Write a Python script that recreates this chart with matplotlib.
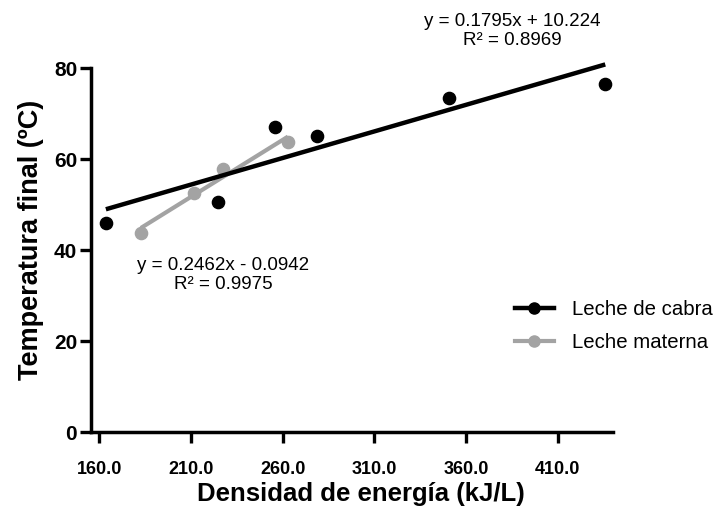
import numpy as np
import matplotlib
matplotlib.use("Agg")
import matplotlib.pyplot as plt
import matplotlib.transforms as mtransforms

plt.rcParams['font.family'] = ['Liberation Sans', 'DejaVu Sans']

# Leche de cabra
cabra_x = [163.6, 224.5, 255.7, 278.7, 351.0, 436.0]
cabra_y = [46.0, 50.6, 67.1, 65.1, 73.5, 76.6]
# Leche materna
materna_x = [182.7, 211.7, 227.5, 262.9]
materna_y = [43.8, 52.6, 57.8, 63.8]

x_ticks = [160, 210, 260, 310, 360, 410]
y_ticks = [0, 20, 40, 60, 80]

eq_cabra = "y = 0.1795x + 10.224\nR² = 0.8969"
eq_materna = "y = 0.2462x - 0.0942\nR² = 0.9975"

BLACK = "#000000"
GREY = "#a3a3a3"


def fit_line(xs, ys):
    slope, intercept = np.polyfit(xs, ys, 1)
    xx = np.array([min(xs), max(xs)])
    return xx, slope * xx + intercept


fig = plt.figure(figsize=(7.19, 5.12), dpi=100)
ax = fig.add_axes([0.1266, 0.156, 0.7254, 0.711])

# regression lines
lx, ly = fit_line(cabra_x, cabra_y)
ax.plot(lx, ly, color=BLACK, lw=3.2, solid_capstyle='butt', zorder=3, clip_on=False)
gx, gy = fit_line(materna_x, materna_y)
ax.plot(gx, gy, color=GREY, lw=3.0, solid_capstyle='butt', zorder=2)

# points
ax.plot(cabra_x, cabra_y, 'o', color=BLACK, ms=8.8, zorder=4, clip_on=False)
ax.plot(materna_x, materna_y, 'o', color=GREY, ms=8.8, zorder=2)

# legend handles (line + marker)
h1, = ax.plot([], [], '-o', color=BLACK, lw=3.2, ms=8, label="Leche de cabra")
h2, = ax.plot([], [], '-o', color=GREY, lw=3.0, ms=8, label="Leche materna")
fig.legend(handles=[h1, h2], loc='center left',
           bbox_to_anchor=(515 / 719, 1 - 326 / 512),
           frameon=False, fontsize=14.7, handlelength=1.9,
           handletextpad=0.9, labelspacing=0.72,
           borderpad=0, borderaxespad=0)

ax.set_xlim(155.5, 440)
ax.set_ylim(0, 80)
ax.set_xticks(x_ticks)
ax.set_xticklabels([f"{t:.1f}" for t in x_ticks], fontsize=13, fontweight='bold')
ax.set_yticks(y_ticks)
ax.set_yticklabels([str(t) for t in y_ticks], fontsize=15, fontweight='bold')

# tick labels sit a little to the right of their ticks in the original
shift = mtransforms.ScaledTranslation(0.05, 0, fig.dpi_scale_trans)
for lab in ax.get_xticklabels():
    lab.set_transform(lab.get_transform() + shift)

for side in ['top', 'right']:
    ax.spines[side].set_visible(False)
for side in ['left', 'bottom']:
    ax.spines[side].set_linewidth(2.5)
ax.tick_params(axis='both', width=2.4, length=8, direction='out')
ax.tick_params(axis='x', pad=13)
ax.tick_params(axis='y', pad=2)

ax.set_xlabel("Densidad de energía (kJ/L)", fontsize=18.5, fontweight='bold')
ax.set_ylabel("Temperatura final (ºC)", fontsize=19.5, fontweight='bold')
ax.xaxis.set_label_coords(0.5175, -0.138)
ax.yaxis.set_label_coords(-0.09, 0.529)

# equations
fig.text(512 / 719, 1 - 31 / 512, eq_cabra, ha='center', va='center',
         fontsize=13.5, linespacing=1.15)
fig.text(223 / 719, 1 - 275 / 512, eq_materna, ha='center', va='center',
         fontsize=13.5, linespacing=1.15)

fig.savefig("out.png", dpi=100)
